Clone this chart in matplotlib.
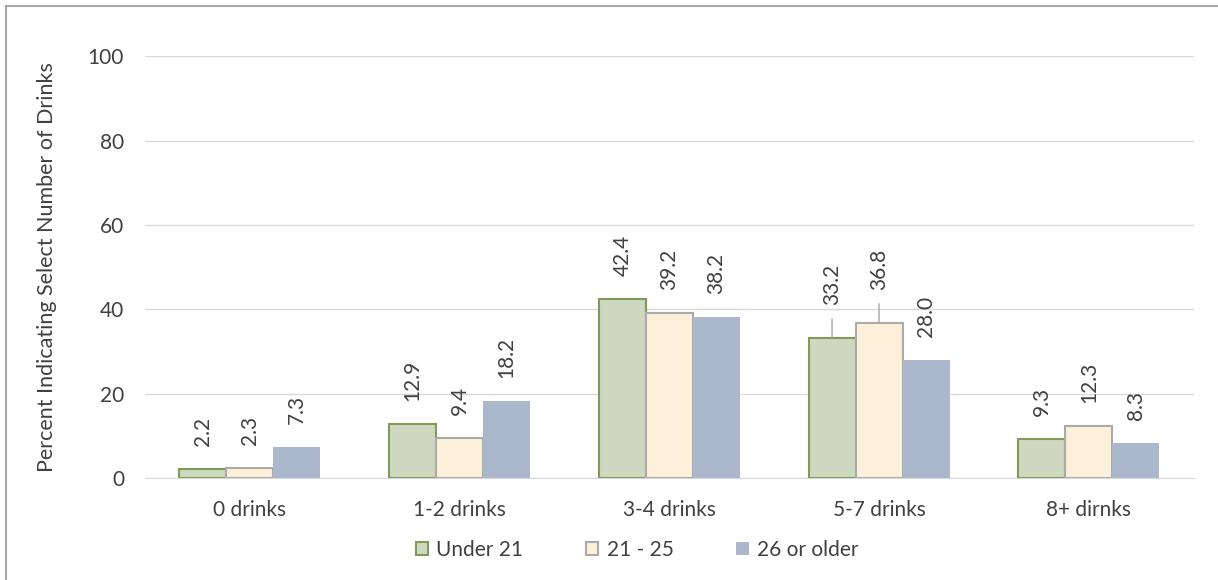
import matplotlib.pyplot as plt
import numpy as np
from matplotlib.patches import Rectangle

categories = ['0 drinks', '1-2 drinks', '3-4 drinks', '5-7 drinks', '8+ dirnks']
groups = ['Under 21', '21 - 25', '26 or older']
under21 = [2.2, 12.9, 42.4, 33.2, 9.3]
age21_25 = [2.3, 9.4, 39.2, 36.8, 12.3]
age26plus = [7.3, 18.2, 38.2, 28.0, 8.3]
yticks = [0, 20, 40, 60, 80, 100]

plt.rcParams['font.family'] = ['Lato', 'DejaVu Sans']
txt = '#404040'
fs = 15

fig = plt.figure(figsize=(12.18, 5.8), dpi=100)
ax = fig.add_axes([0.119, 0.176, 0.861, 0.727])

x = np.arange(len(categories))
w = 0.224
series = [under21, age21_25, age26plus]
fills = ['#CED8C0', '#FCF0DA', '#ABB7CA']
edges = ['#7F9B57', '#ABABAB', 'none']
lws = [1.5, 1.5, 0]

for i, (vals, name) in enumerate(zip(series, groups)):
    pos = x + (i - 1) * w
    ax.bar(pos, vals, w, color=fills[i], edgecolor=edges[i], linewidth=lws[i],
           label=name, zorder=3)
    for j, (px, v) in enumerate(zip(pos, vals)):
        # 5-7 drinks labels for the first two series sit higher with a leader line
        if j == 3 and i < 2:
            off = 33
            ax.annotate('', xy=(px, v), xytext=(0, 19), textcoords='offset pixels',
                        xycoords='data',
                        arrowprops=dict(arrowstyle='-', color='#A6A6A6', lw=1,
                                        shrinkA=0, shrinkB=0))
        else:
            off = 23
        ax.annotate(f'{v:.1f}', xy=(px, v), xytext=(0, off), textcoords='offset pixels',
                    rotation=90, ha='center', va='bottom', fontsize=fs, color=txt)

ax.set_xlim(-0.5, len(categories) - 0.5)
ax.set_ylim(0, 100)
ax.set_yticks(yticks)
ax.set_xticks(x)
ax.set_xticklabels(categories, fontsize=fs, color=txt)
ax.tick_params(axis='y', labelsize=fs, labelcolor=txt, length=0, pad=15)
ax.tick_params(axis='x', length=0, pad=16)
ax.grid(axis='y', color='#D9D9D9', linewidth=1, zorder=0)
for s in ['top', 'right', 'left']:
    ax.spines[s].set_visible(False)
ax.spines['bottom'].set_color('#D9D9D9')
ax.set_ylabel('Percent Indicating Select Number of Drinks', fontsize=15.5, color=txt,
              labelpad=22)

fig.legend(loc='center', bbox_to_anchor=(0.523, 0.052), ncol=3, frameon=False,
           fontsize=fs, labelcolor=txt, handlelength=0.6, handleheight=0.6,
           handletextpad=0.4, columnspacing=3.0)

fig.patches.append(Rectangle((6 / 1218, -0.1), 1.2, 1 - 6 / 580 + 0.1,
                             transform=fig.transFigure, fill=False,
                             edgecolor='#A6A6A6', linewidth=1.5))

fig.savefig('out.png', dpi=100)
